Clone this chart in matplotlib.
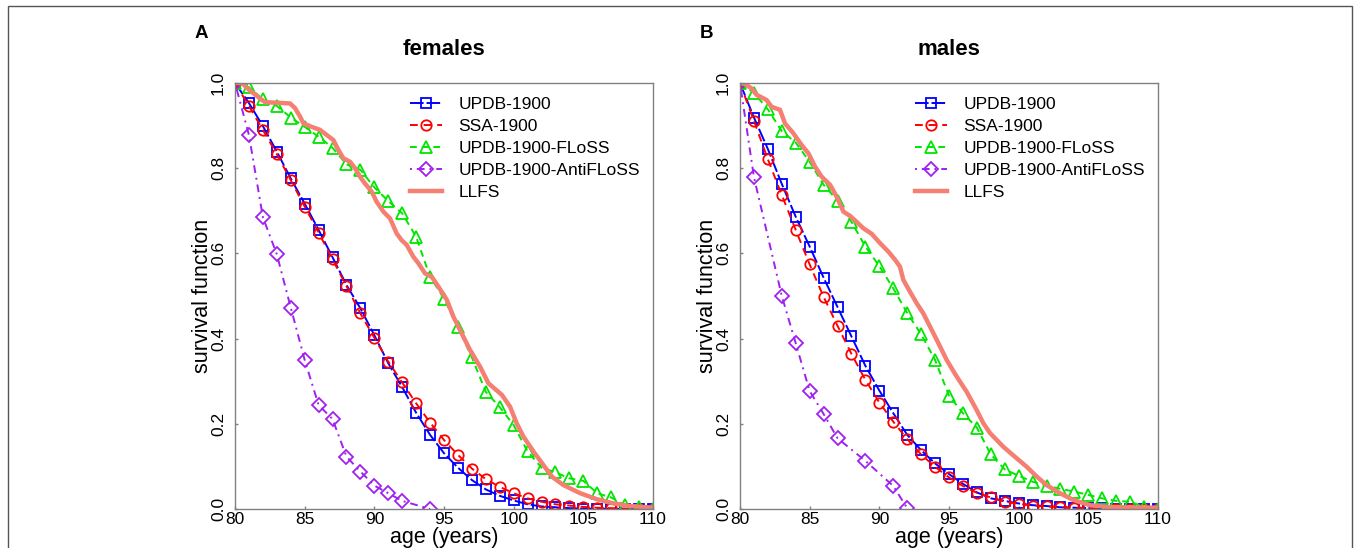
import numpy as np
import matplotlib
matplotlib.use("Agg")
import matplotlib.pyplot as plt
from matplotlib.patches import Rectangle

plt.rcParams['font.family'] = ['Liberation Sans', 'DejaVu Sans']

ages = list(range(80, 111))

# ---------------- females ----------------
f_updb = [1.0, 0.953, 0.899, 0.839, 0.776, 0.717, 0.655, 0.591, 0.526, 0.471,
          0.408, 0.342, 0.286, 0.226, 0.174, 0.131, 0.097, 0.068, 0.046, 0.031,
          0.020, 0.011, 0.006, 0.004, 0.002, 0.001, 0.001, 0.0005, 0.0003, 0.0002, 0.0001]
f_ssa = [1.0, 0.946, 0.890, 0.833, 0.772, 0.710, 0.649, 0.586, 0.523, 0.459,
         0.402, 0.346, 0.297, 0.248, 0.203, 0.162, 0.127, 0.095, 0.070, 0.052,
         0.037, 0.025, 0.017, 0.011, 0.008, 0.005, 0.003, 0.002, 0.001, 0.0005, 0.0003]
f_floss = [1.0, 0.990, 0.962, 0.946, 0.919, 0.897, 0.874, 0.848, 0.809, 0.796,
           0.755, 0.723, 0.694, 0.639, 0.545, 0.494, 0.427, 0.356, 0.275, 0.239,
           0.197, 0.135, 0.097, 0.086, 0.072, 0.066, 0.037, 0.027, 0.009, 0.004, 0.0]
f_anti_ages = [80, 81, 82, 83, 84, 85, 86, 87, 88, 89, 90, 91, 92, 94]
f_anti = [1.0, 0.878, 0.685, 0.598, 0.473, 0.350, 0.244, 0.211, 0.123, 0.088,
          0.055, 0.037, 0.019, 0.0]
f_llfs_ages = [80.0, 80.5, 81.08, 82.15, 83.95, 84.31, 84.67, 84.91, 85.51, 86.1,
               86.58, 87.06, 87.42, 87.78, 88.26, 88.62, 88.97, 89.33, 89.81, 90.17,
               90.65, 91.13, 91.6, 91.96, 92.32, 92.8, 93.16, 93.64, 94.12, 94.6,
               95.2, 95.68, 95.91, 96.87, 97.59, 98.19, 99.15, 99.74, 100.22, 100.7,
               101.42, 102.14, 102.74, 103.58, 104.78, 105.97, 107.17, 108.37, 110.0]
f_llfs = [1.0, 1.0, 0.982, 0.955, 0.952, 0.941, 0.921, 0.905, 0.897, 0.890,
          0.878, 0.866, 0.843, 0.823, 0.815, 0.800, 0.780, 0.764, 0.745, 0.721,
          0.698, 0.682, 0.647, 0.631, 0.620, 0.592, 0.577, 0.553, 0.545, 0.522,
          0.491, 0.451, 0.436, 0.373, 0.334, 0.295, 0.268, 0.240, 0.201, 0.170,
          0.135, 0.103, 0.076, 0.056, 0.037, 0.023, 0.013, 0.007, 0.003]

# ---------------- males ----------------
m_updb = [1.0, 0.919, 0.845, 0.763, 0.686, 0.616, 0.543, 0.474, 0.405, 0.336,
          0.278, 0.225, 0.174, 0.138, 0.107, 0.082, 0.059, 0.039, 0.025, 0.019,
          0.013, 0.009, 0.007, 0.004, 0.003, 0.002, 0.0015, 0.001, 0.001, 0.001, 0.0005]
m_ssa = [1.0, 0.911, 0.821, 0.737, 0.655, 0.574, 0.498, 0.430, 0.364, 0.303,
         0.250, 0.205, 0.164, 0.128, 0.099, 0.074, 0.054, 0.038, 0.027, 0.017,
         0.012, 0.008, 0.006, 0.004, 0.003, 0.002, 0.001, 0.001, 0.0005, 0.0003, 0.0002]
m_floss = [1.0, 0.977, 0.938, 0.887, 0.860, 0.815, 0.761, 0.724, 0.674, 0.616,
           0.570, 0.518, 0.460, 0.410, 0.350, 0.266, 0.225, 0.191, 0.128, 0.093,
           0.078, 0.064, 0.055, 0.047, 0.041, 0.033, 0.025, 0.019, 0.017, 0.005, 0.0]
m_anti_ages = [80, 81, 83, 84, 85, 86, 87, 89, 91, 92]
m_anti = [1.0, 0.779, 0.500, 0.389, 0.277, 0.223, 0.166, 0.113, 0.054, 0.002]
m_llfs_ages = [80.0, 80.24, 80.84, 81.2, 81.91, 82.27, 82.87, 83.23, 83.83, 84.43,
               84.91, 85.38, 85.86, 86.46, 86.94, 87.42, 87.9, 88.37, 88.85, 89.45,
               90.05, 90.65, 91.13, 91.48, 91.72, 92.2, 92.68, 93.16, 93.64, 94.12,
               94.83, 95.55, 96.27, 96.99, 97.47, 97.95, 98.9, 99.86, 100.58, 101.3,
               102.01, 102.97, 103.93, 105.12, 106.32, 107.52, 110.0]
m_llfs = [1.0, 1.0, 0.987, 0.972, 0.960, 0.944, 0.937, 0.905, 0.882, 0.854,
          0.835, 0.804, 0.780, 0.761, 0.733, 0.698, 0.688, 0.674, 0.659, 0.646,
          0.624, 0.604, 0.585, 0.569, 0.538, 0.510, 0.483, 0.459, 0.428, 0.397,
          0.350, 0.311, 0.275, 0.232, 0.201, 0.178, 0.146, 0.119, 0.099, 0.076,
          0.056, 0.037, 0.021, 0.009, 0.005, 0.004, 0.003]

labels = ["UPDB-1900", "SSA-1900", "UPDB-1900-FLoSS", "UPDB-1900-AntiFLoSS", "LLFS"]
titles = ["females", "males"]
panel_letters = ["A", "B"]
x_ticks = [80, 85, 90, 95, 100, 105, 110]
y_ticks = [0.0, 0.2, 0.4, 0.6, 0.8, 1.0]

C_BLUE = "#0000FF"
C_RED = "#FF0000"
C_GREEN = "#00E600"
C_PURPLE = "#A020F0"
C_SALMON = "#F47F72"

W, H = 1358, 548
fig = plt.figure(figsize=(W / 100, H / 100), dpi=100)

# outer frame
fig.patches.append(Rectangle((8 / W, -0.05), (1352 - 8) / W, 1 - 6 / H + 0.05,
                             transform=fig.transFigure, fill=False,
                             edgecolor="#555555", linewidth=1.0))

panels = [
    (235, f_updb, f_ssa, f_floss, f_anti_ages, f_anti, f_llfs_ages, f_llfs),
    (740, m_updb, m_ssa, m_floss, m_anti_ages, m_anti, m_llfs_ages, m_llfs),
]

for i, (left_px, updb, ssa, floss, aages, anti, lages, llfs) in enumerate(panels):
    ax = fig.add_axes([left_px / W, 1 - 509 / H, 418 / W, 426 / H])
    lw = 1.4
    ms = 7.5
    mew = 1.3
    ax.plot(ages, updb, color=C_BLUE, lw=lw, dashes=(7, 1.5), marker='s', ms=ms,
            mfc='none', mew=mew, label=labels[0])
    ax.plot(ages, ssa, color=C_RED, lw=lw, dashes=(4, 3), marker='o', ms=ms,
            mfc='none', mew=mew, label=labels[1])
    ax.plot(ages, floss, color=C_GREEN, lw=lw, dashes=(3.5, 2.5), marker='^', ms=ms + 1,
            mfc='none', mew=mew, label=labels[2])
    ax.plot(aages, anti, color=C_PURPLE, lw=lw, dashes=(1, 2.5, 4, 2.5), marker='D',
            ms=ms - 0.5, mfc='none', mew=mew, label=labels[3])
    ax.plot(lages, llfs, color=C_SALMON, lw=3.2, solid_joinstyle='miter', label=labels[4])

    ax.set_xlim(80, 110)
    ax.set_ylim(0, 1)
    ax.set_xticks(x_ticks)
    ax.set_xticklabels([str(t) for t in x_ticks], fontsize=12.5)
    ax.set_yticks(y_ticks)
    ax.set_yticklabels([f"{t:.1f}" for t in y_ticks], fontsize=12.5, rotation=90, va='center')
    ax.tick_params(axis='both', direction='in', length=2.5, color='#808080', width=1)
    ax.tick_params(axis='x', pad=2.5)
    ax.tick_params(axis='y', pad=6.5)
    for s in ax.spines.values():
        s.set_color('#808080')
        s.set_linewidth(1.0)

    ax.set_xlabel("age (years)", fontsize=15.5, labelpad=0)
    ax.xaxis.set_label_coords(0.5, -0.043)
    ax.set_ylabel("survival function", fontsize=15.5)
    ax.yaxis.set_label_coords(-0.052, 0.5)
    ax.set_title(titles[i], fontsize=16, fontweight='bold', pad=20)

    fig.text((left_px - 40) / W, 1 - 38 / H, panel_letters[i], fontsize=13.5,
             fontweight='bold', ha='left', va='baseline')

    leg = ax.legend(loc='upper left', bbox_to_anchor=(0.418, 0.967), frameon=False,
                    fontsize=12.5, handlelength=1.85, handletextpad=0.95,
                    labelspacing=0.39, borderpad=0, borderaxespad=0, numpoints=1)

fig.savefig("out.png", dpi=100)
